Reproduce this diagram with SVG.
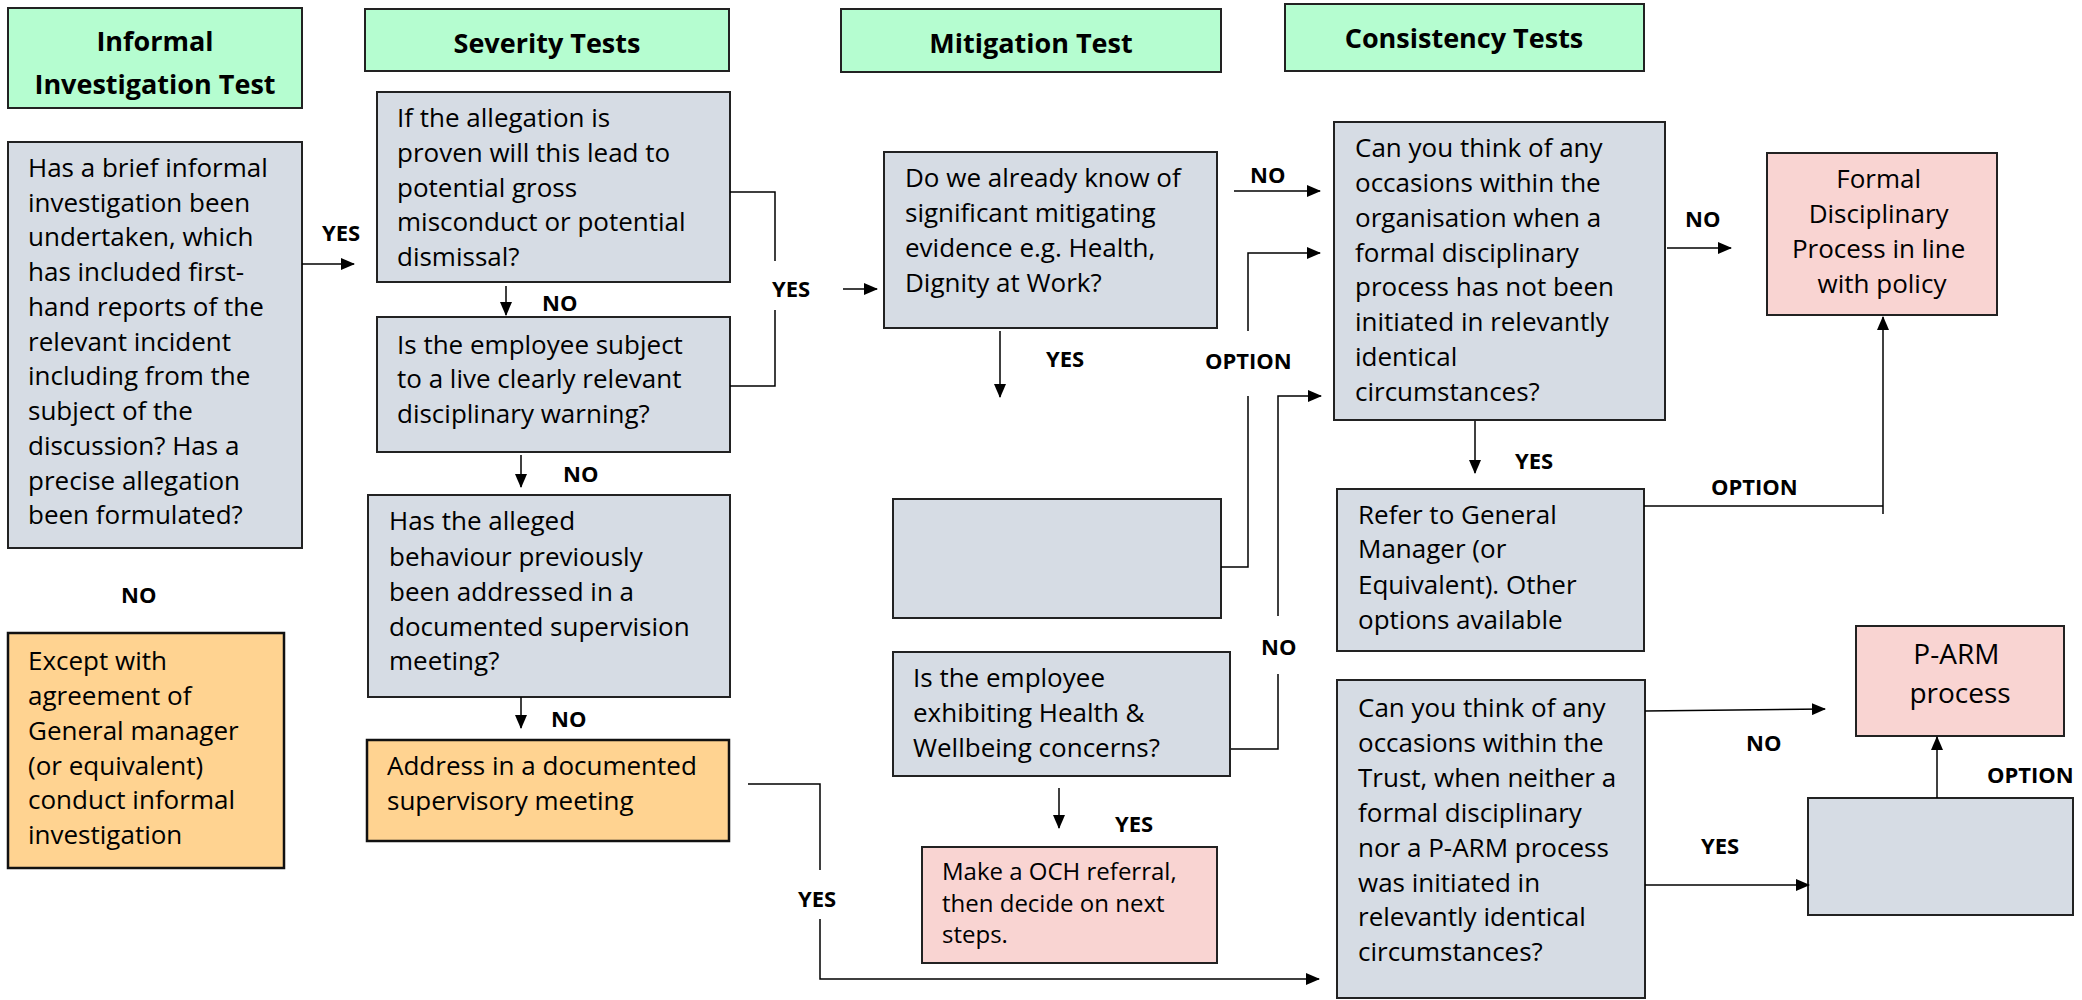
<svg xmlns="http://www.w3.org/2000/svg" width="2082" height="1000" viewBox="0 0 2082 1000">
<defs>
<marker id="ah" markerWidth="14" markerHeight="12" refX="13" refY="6" orient="auto" markerUnits="userSpaceOnUse">
<path d="M0,0 L14,6 L0,12 Z" fill="#000"/>
</marker>
<style>
.hd{fill:#b5fdd0;stroke:#222;stroke-width:2}
.gy{fill:#d6dce4;stroke:#222;stroke-width:2}
.or{fill:#ffd391;stroke:#111;stroke-width:2.5}
.pk{fill:#f9d4d2;stroke:#222;stroke-width:2}
text{font-family:"Open Sans","Noto Sans","Liberation Sans",sans-serif;fill:#000}
.t{font-size:26px}
.ts{font-size:24px}
.tb{font-size:27px;font-weight:bold}
.lb{font-size:22px;font-weight:bold}
.c{text-anchor:middle}
.cn{fill:none;stroke:#000;stroke-width:1.5}
.ar{marker-end:url(#ah)}
</style>
</defs>

<g id="header-informal">
<rect class="hd" x="8" y="8" width="294" height="100"/>
<text class="tb c" x="155" y="51">Informal</text>
<text class="tb c" x="155" y="94">Investigation Test</text>
</g>
<g id="header-severity">
<rect class="hd" x="365" y="9" width="364" height="62"/>
<text class="tb c" x="547" y="53">Severity Tests</text>
</g>
<g id="header-mitigation">
<rect class="hd" x="841" y="9" width="380" height="63"/>
<text class="tb c" x="1031" y="53">Mitigation Test</text>
</g>
<g id="header-consistency">
<rect class="hd" x="1285" y="4" width="359" height="67"/>
<text class="tb c" x="1464" y="48">Consistency Tests</text>
</g>

<g id="informal-question">
<rect class="gy" x="8" y="142" width="294" height="406"/>
<text class="t" x="28">
<tspan x="28" y="177">Has a brief informal</tspan>
<tspan x="28" y="212">investigation been</tspan>
<tspan x="28" y="246">undertaken, which</tspan>
<tspan x="28" y="281">has included first-</tspan>
<tspan x="28" y="316">hand reports of the</tspan>
<tspan x="28" y="351">relevant incident</tspan>
<tspan x="28" y="385">including from the</tspan>
<tspan x="28" y="420">subject of the</tspan>
<tspan x="28" y="455">discussion? Has a</tspan>
<tspan x="28" y="490">precise allegation</tspan>
<tspan x="28" y="524">been formulated?</tspan>
</text>
</g>
<g id="informal-except">
<rect class="or" x="8" y="633" width="276" height="235"/>
<text class="t">
<tspan x="28" y="670">Except with</tspan>
<tspan x="28" y="705">agreement of</tspan>
<tspan x="28" y="740">General manager</tspan>
<tspan x="28" y="775">(or equivalent)</tspan>
<tspan x="28" y="809">conduct informal</tspan>
<tspan x="28" y="844">investigation</tspan>
</text>
</g>

<g id="severity-gross">
<rect class="gy" x="377" y="92" width="353" height="190"/>
<text class="t">
<tspan x="397" y="127">If the allegation is</tspan>
<tspan x="397" y="162">proven will this lead to</tspan>
<tspan x="397" y="197">potential gross</tspan>
<tspan x="397" y="231">misconduct or potential</tspan>
<tspan x="397" y="266">dismissal?</tspan>
</text>
</g>
<g id="severity-warning">
<rect class="gy" x="377" y="317" width="353" height="135"/>
<text class="t">
<tspan x="397" y="354">Is the employee subject</tspan>
<tspan x="397" y="388">to a live clearly relevant</tspan>
<tspan x="397" y="423">disciplinary  warning?</tspan>
</text>
</g>
<g id="severity-addressed">
<rect class="gy" x="368" y="495" width="362" height="202"/>
<text class="t">
<tspan x="389" y="530">Has the alleged</tspan>
<tspan x="389" y="566">behaviour previously</tspan>
<tspan x="389" y="601">been addressed in a</tspan>
<tspan x="389" y="636">documented supervision</tspan>
<tspan x="389" y="670">meeting?</tspan>
</text>
</g>
<g id="severity-address-meeting">
<rect class="or" x="367" y="740" width="362" height="101"/>
<text class="t">
<tspan x="387" y="775">Address in a documented</tspan>
<tspan x="387" y="810">supervisory meeting</tspan>
</text>
</g>

<g id="mitigation-known">
<rect class="gy" x="884" y="152" width="333" height="176"/>
<text class="t">
<tspan x="905" y="187">Do we already know of</tspan>
<tspan x="905" y="222">significant mitigating</tspan>
<tspan x="905" y="257">evidence e.g. Health,</tspan>
<tspan x="905" y="292">Dignity at Work?</tspan>
</text>
</g>
<g id="mitigation-empty">
<rect class="gy" x="893" y="499" width="328" height="119"/>
</g>
<g id="mitigation-health">
<rect class="gy" x="893" y="652" width="337" height="124"/>
<text class="t">
<tspan x="913" y="687">Is the employee</tspan>
<tspan x="913" y="722">exhibiting Health &amp;</tspan>
<tspan x="913" y="757">Wellbeing concerns?</tspan>
</text>
</g>
<g id="mitigation-och">
<rect class="pk" x="922" y="847" width="295" height="116"/>
<text class="ts">
<tspan x="942" y="880">Make a OCH referral,</tspan>
<tspan x="942" y="912">then decide on next</tspan>
<tspan x="942" y="943">steps.</tspan>
</text>
</g>

<g id="consistency-organisation">
<rect class="gy" x="1334" y="122" width="331" height="298"/>
<text class="t">
<tspan x="1355" y="157">Can you think of any</tspan>
<tspan x="1355" y="192">occasions within the</tspan>
<tspan x="1355" y="227">organisation when a</tspan>
<tspan x="1355" y="262">formal disciplinary</tspan>
<tspan x="1355" y="296">process has not been</tspan>
<tspan x="1355" y="331">initiated in relevantly</tspan>
<tspan x="1355" y="366">identical</tspan>
<tspan x="1355" y="401">circumstances?</tspan>
</text>
</g>
<g id="formal-process">
<rect class="pk" x="1767" y="153" width="230" height="162"/>
<text class="t c">
<tspan x="1882" y="188">Formal</tspan>
<tspan x="1882" y="223">Disciplinary</tspan>
<tspan x="1882" y="258">Process in line</tspan>
<tspan x="1882" y="293">with policy</tspan>
</text>
</g>
<g id="consistency-refer">
<rect class="gy" x="1337" y="489" width="307" height="162"/>
<text class="t">
<tspan x="1358" y="524">Refer to General</tspan>
<tspan x="1358" y="558">Manager (or</tspan>
<tspan x="1358" y="594">Equivalent). Other</tspan>
<tspan x="1358" y="629">options available</tspan>
</text>
</g>
<g id="consistency-trust">
<rect class="gy" x="1337" y="680" width="308" height="318"/>
<text class="t">
<tspan x="1358" y="717">Can you think of any</tspan>
<tspan x="1358" y="752">occasions within the</tspan>
<tspan x="1358" y="787">Trust, when neither a</tspan>
<tspan x="1358" y="822">formal disciplinary</tspan>
<tspan x="1358" y="857">nor a P-ARM process</tspan>
<tspan x="1358" y="892">was initiated in</tspan>
<tspan x="1358" y="926">relevantly identical</tspan>
<tspan x="1358" y="961">circumstances?</tspan>
</text>
</g>
<g id="parm-process">
<rect class="pk" x="1856" y="626" width="208" height="110"/>
<text class="c" style="font-size:28px">
<tspan x="1960" y="664">P-ARM</tspan>
<tspan x="1960" y="703">process</tspan>
</text>
</g>
<g id="consistency-empty">
<rect class="gy" x="1808" y="798" width="265" height="117"/>
</g>

<g id="connectors">
<line class="cn ar" x1="302" y1="264" x2="354" y2="264"/>
<line class="cn ar" x1="506" y1="286" x2="506" y2="315"/>
<line class="cn ar" x1="521" y1="455" x2="521" y2="487"/>
<line class="cn ar" x1="521" y1="697" x2="521" y2="728"/>
<polyline class="cn" points="730,192 775,192 775,261"/>
<polyline class="cn" points="775,310 775,386 730,386"/>
<line class="cn ar" x1="843" y1="289" x2="877" y2="289"/>
<line class="cn ar" x1="1000" y1="331" x2="1000" y2="397"/>
<line class="cn ar" x1="1234" y1="191" x2="1320" y2="191"/>
<polyline class="cn" points="1221,567 1248,567 1248,396"/>
<polyline class="cn ar" points="1248,331 1248,253 1320,253"/>
<polyline class="cn" points="1231,749 1278,749 1278,674"/>
<polyline class="cn ar" points="1278,616 1278,396 1321,396"/>
<line class="cn ar" x1="1059" y1="788" x2="1059" y2="828"/>
<polyline class="cn" points="748,784 820,784 820,870"/>
<polyline class="cn ar" points="820,919 820,979 1319,979"/>
<line class="cn ar" x1="1667" y1="248" x2="1731" y2="248"/>
<line class="cn ar" x1="1475" y1="421" x2="1475" y2="473"/>
<line class="cn" x1="1644" y1="506" x2="1883" y2="506"/>
<line class="cn ar" x1="1883" y1="514" x2="1883" y2="317"/>
<line class="cn ar" x1="1645" y1="711" x2="1825" y2="709"/>
<line class="cn ar" x1="1645" y1="885" x2="1809" y2="885"/>
<line class="cn ar" x1="1937" y1="798" x2="1937" y2="737"/>

<text class="lb" x="322" y="241">YES</text>
<text class="lb" x="542" y="311">NO</text>
<text class="lb" x="563" y="482">NO</text>
<text class="lb" x="121" y="603">NO</text>
<text class="lb" x="551" y="727">NO</text>
<text class="lb" x="772" y="297">YES</text>
<text class="lb" x="1046" y="367">YES</text>
<text class="lb" x="1250" y="183">NO</text>
<text class="lb" x="1205" y="369">OPTION</text>
<text class="lb" x="1261" y="655">NO</text>
<text class="lb" x="1115" y="832">YES</text>
<text class="lb" x="798" y="907">YES</text>
<text class="lb" x="1685" y="227">NO</text>
<text class="lb" x="1515" y="469">YES</text>
<text class="lb" x="1711" y="495">OPTION</text>
<text class="lb" x="1746" y="751">NO</text>
<text class="lb" x="1701" y="854">YES</text>
<text class="lb" x="1987" y="783">OPTION</text>
</g>
</svg>
